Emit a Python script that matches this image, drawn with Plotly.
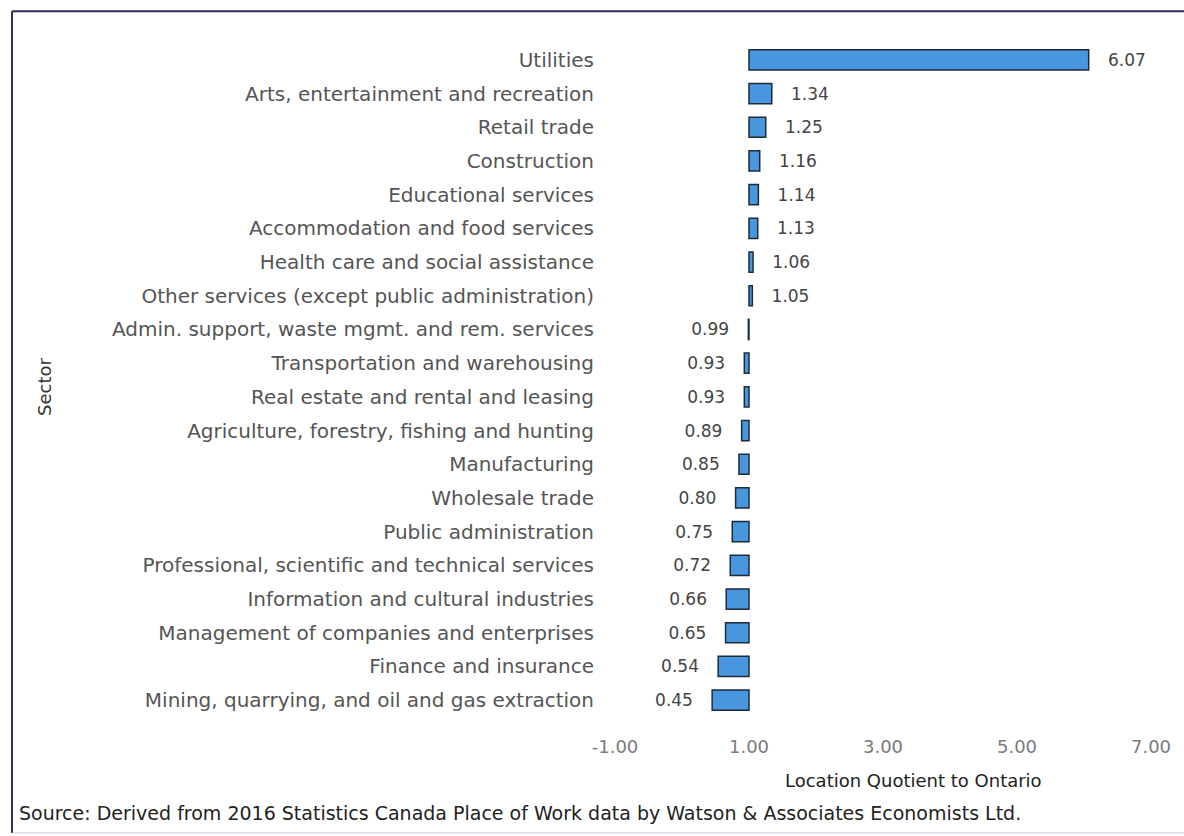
import plotly.graph_objects as go

# Location quotients by sector (relative to Ontario = 1.00)
sectors = [
    "Utilities",
    "Arts, entertainment and recreation",
    "Retail trade",
    "Construction",
    "Educational services",
    "Accommodation and food services",
    "Health care and social assistance",
    "Other services (except public administration)",
    "Admin. support, waste mgmt. and rem. services",
    "Transportation and warehousing",
    "Real estate and rental and leasing",
    "Agriculture, forestry, fishing and hunting",
    "Manufacturing",
    "Wholesale trade",
    "Public administration",
    "Professional, scientific and technical services",
    "Information and cultural industries",
    "Management of companies and enterprises",
    "Finance and insurance",
    "Mining, quarrying, and oil and gas extraction",
]
lq_values = [6.07, 1.34, 1.25, 1.16, 1.14, 1.13, 1.06, 1.05, 0.99, 0.93,
             0.93, 0.89, 0.85, 0.80, 0.75, 0.72, 0.66, 0.65, 0.54, 0.45]
x_ticks = [-1, 1, 3, 5, 7]
x_tick_labels = ["-1.00", "1.00", "3.00", "5.00", "7.00"]
baseline = 1.0

FONT = "DejaVu Sans"
pad = "\u00a0\u00a0\u00a0"
labels = [(pad + f"{v:.2f}") if v >= baseline else (f"{v:.2f}" + pad) for v in lq_values]

fig = go.Figure(
    go.Bar(
        y=sectors,
        x=[v - baseline for v in lq_values],
        base=baseline,
        orientation="h",
        marker=dict(color="#4896dd", line=dict(color="#1b2b3c", width=1.5)),
        text=labels,
        textposition="outside",
        cliponaxis=False,
        textfont=dict(family=FONT, size=17, color="#444444"),
        hoverinfo="skip",
    )
)

fig.update_layout(
    width=1184,
    height=836,
    margin=dict(l=615, r=33, t=43, b=119),
    paper_bgcolor="white",
    plot_bgcolor="white",
    showlegend=False,
    bargap=0.4,
    xaxis=dict(
        range=[-1, 7],
        tickvals=x_ticks,
        ticktext=x_tick_labels,
        showgrid=False,
        zeroline=False,
        showline=False,
        ticks="",
        tickfont=dict(family=FONT, size=18, color="#7a7a7a"),
        ticklabelstandoff=17,
    ),
    yaxis=dict(
        autorange="reversed",
        showgrid=False,
        zeroline=False,
        showline=False,
        ticks="",
        tickfont=dict(family=FONT, size=20, color="#555555"),
        ticklabelstandoff=20,
    ),
    font=dict(family=FONT),
)

# Axis titles
fig.add_annotation(
    text="Sector", xref="paper", yref="paper", x=-1.063, y=0.49,
    xanchor="center", yanchor="middle", textangle=-90, showarrow=False,
    font=dict(family=FONT, size=18, color="#333333"),
)
fig.add_annotation(
    text="Location Quotient to Ontario", xref="paper", yref="paper",
    x=0.556, y=-0.094, xanchor="center", yanchor="middle", showarrow=False,
    font=dict(family=FONT, size=18, color="#222222"),
)
# Source line
fig.add_annotation(
    text="Source: Derived from 2016 Statistics Canada Place of Work data by Watson & Associates Economists Ltd.",
    xref="paper", yref="paper", x=-1.1157, y=-0.1424, xanchor="left", yanchor="middle",
    showarrow=False, font=dict(family=FONT, size=19, color="#222222"),
)

# Frame around the whole chart
frame = "#2e2e64"
fig.add_shape(type="line", xref="paper", yref="paper", x0=-1.125, x1=1.07, y0=1.047, y1=1.047,
              line=dict(color=frame, width=2))
fig.add_shape(type="line", xref="paper", yref="paper", x0=-1.125, x1=-1.125, y0=1.047, y1=-0.172,
              line=dict(color=frame, width=2))
fig.add_shape(type="line", xref="paper", yref="paper", x0=-1.125, x1=1.07, y0=-0.172, y1=-0.172,
              line=dict(color="#c8cbe0", width=1))

fig.write_html("out.html")
